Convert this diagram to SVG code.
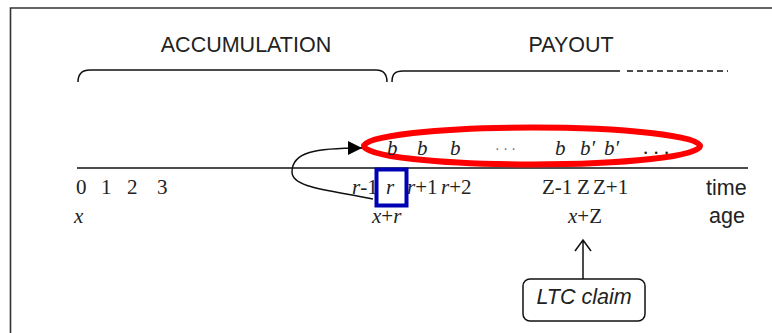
<svg xmlns="http://www.w3.org/2000/svg" width="772" height="333" viewBox="0 0 772 333">
<defs>
<style>
.sans{font-family:"Liberation Sans",Arial,sans-serif;font-size:21.5px;fill:#222}
.serif{font-family:"Liberation Serif","Times New Roman",serif;font-size:21px;fill:#222}
.it{font-style:italic}
.line{fill:none;stroke:#111;stroke-width:1.5}
.dots{font-family:"Liberation Serif",serif;font-size:14px;fill:#666}
</style>
<marker id="tri" viewBox="0 0 10 10" refX="10" refY="5" markerWidth="14" markerHeight="14" markerUnits="userSpaceOnUse" orient="auto">
<path d="M0,0 L10,5 L0,10 z" fill="#000"/>
</marker>
</defs>
<rect width="772" height="333" fill="#fff"/>
<g id="frame">
<path d="M10.5,333 V8 H772" fill="none" stroke="#333" stroke-width="1.6"/>
</g>
<g id="accumulation">
<path class="line" d="M78,82 C78,74 82,70 90,70 H376 C384,70 387,74 387,82"/>
<text class="sans" x="246" y="52" text-anchor="middle">ACCUMULATION</text>
</g>
<g id="payout">
<path class="line" d="M392,82 C392,74 395,71 403,71 H620"/>
<path class="line" d="M627,71 H728" stroke-dasharray="6,4"/>
<text class="sans" x="571" y="52" text-anchor="middle">PAYOUT</text>
</g>
<g id="timeline">
<path class="line" d="M77,168 H748"/>
<text class="serif" x="76" y="194">0</text>
<text class="serif" x="101" y="194">1</text>
<text class="serif" x="127" y="194">2</text>
<text class="serif" x="157" y="194">3</text>
<text class="serif" x="352" y="194"><tspan class="it">r</tspan>-1</text>
<text class="serif" x="407" y="194"><tspan class="it">r</tspan>+1</text>
<text class="serif" x="441" y="194"><tspan class="it">r</tspan>+2</text>
<text class="serif" x="542" y="194">Z-1</text>
<text class="serif" x="577" y="194">Z</text>
<text class="serif" x="593" y="194">Z+1</text>
<text class="serif it" x="74" y="223">x</text>
<text class="serif" x="372" y="223"><tspan class="it">x</tspan>+<tspan class="it">r</tspan></text>
<text class="serif" x="568" y="223"><tspan class="it">x</tspan>+Z</text>
<text class="sans" x="706" y="195">time</text>
<text class="sans" x="709" y="223">age</text>
</g>
<g id="retire">
<rect x="376.5" y="169.5" width="30" height="36" fill="none" stroke="#0000b4" stroke-width="4"/>
<text class="serif it" x="386" y="194">r</text>
</g>
<g id="benefits">
<ellipse cx="532" cy="146" rx="168" ry="18.5" fill="none" stroke="#ff0000" stroke-width="6"/>
<text class="serif it" x="387" y="155">b</text>
<text class="serif it" x="417" y="155">b</text>
<text class="serif it" x="450" y="155">b</text>
<text class="dots" x="495" y="154">·  ·  ·</text>
<text class="serif it" x="555" y="155">b</text>
<text class="serif it" x="580" y="155">b′</text>
<text class="serif it" x="604" y="155">b′</text>
<text class="serif" x="643" y="154">. . .</text>
</g>
<g id="ltc">
<rect x="523" y="279" width="122" height="42" rx="7" fill="#fff" stroke="#111" stroke-width="1.5"/>
<text class="sans it" x="584" y="304" text-anchor="middle">LTC claim</text>
</g>
<g id="connectors">
<path class="line" d="M373,199 C330,190 292,188 292,172 C292,152 315,148 362,148" marker-end="url(#tri)" stroke="#000"/>
<path class="line" d="M583,279 V240 M575,251 L583,240 L591,251" stroke="#000"/>
</g>
</svg>
